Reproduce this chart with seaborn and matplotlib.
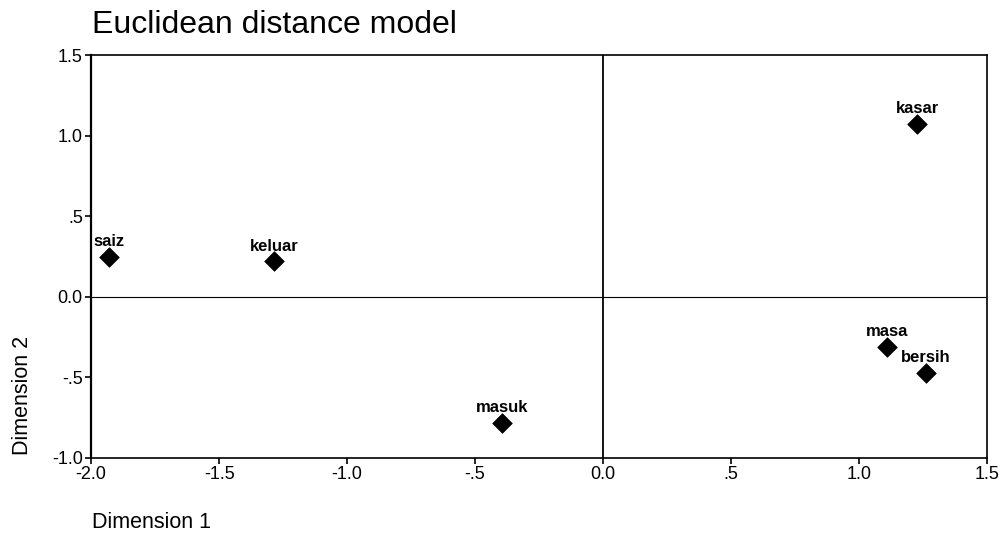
import matplotlib
matplotlib.use("Agg")
import matplotlib.pyplot as plt
import seaborn as sns
import pandas as pd

# Stimulus coordinates
words = ["saiz", "keluar", "masuk", "kasar", "masa", "bersih"]
dim1 = [-1.93, -1.285, -0.395, 1.227, 1.109, 1.262]
dim2 = [0.25, 0.22, -0.78, 1.075, -0.31, -0.47]

xticks = [-2.0, -1.5, -1.0, -0.5, 0.0, 0.5, 1.0, 1.5]
xticklabels = ["-2.0", "-1.5", "-1.0", "-.5", "0.0", ".5", "1.0", "1.5"]
yticks = [-1.0, -0.5, 0.0, 0.5, 1.0, 1.5]
yticklabels = ["-1.0", "-.5", "0.0", ".5", "1.0", "1.5"]

data = pd.DataFrame({"word": words, "Dimension 1": dim1, "Dimension 2": dim2})

sns.set_style("white")
plt.rcParams["font.family"] = ["Liberation Sans", "DejaVu Sans"]
plt.rcParams["text.color"] = "black"
plt.rcParams["xtick.color"] = "black"
plt.rcParams["ytick.color"] = "black"

fig = plt.figure(figsize=(10.02, 5.35), dpi=100)
ax = fig.add_axes([0.091, 0.144, 0.894, 0.753])

sns.scatterplot(data=data, x="Dimension 1", y="Dimension 2", marker="D",
                s=100, color="black", edgecolor="black", linewidth=0.5,
                ax=ax, zorder=3)

# labels sit just above each marker
for w, x, y in zip(words, dim1, dim2):
    ax.annotate(w, (x, y), xytext=(0, 7.5), textcoords="offset points",
                ha="center", va="baseline", fontsize=12, fontweight="bold",
                color="black")

# reference lines through the origin
ax.axhline(0, color="black", linewidth=0.8, zorder=1)
ax.axvline(0, color="black", linewidth=1.3, zorder=1)

ax.set_xlim(-2.0, 1.5)
ax.set_ylim(-1.0, 1.5)
ax.set_xticks(xticks)
ax.set_xticklabels(xticklabels, fontsize=13)
ax.set_yticks(yticks)
ax.set_yticklabels(yticklabels, fontsize=13)
ax.tick_params(axis="both", direction="out", length=4, width=1.2,
               left=True, bottom=True, pad=2)

for sp in ax.spines.values():
    sp.set_visible(True)
    sp.set_color("black")
    sp.set_linewidth(1.2)
ax.spines["left"].set_linewidth(1.6)

ax.set_xlabel("")
ax.set_ylabel("")
fig.text(0.092, 0.024, "Dimension 1", fontsize=15.5, ha="left", va="center")
fig.text(0.022, 0.15, "Dimension 2", fontsize=15.5, rotation=90,
         ha="center", va="bottom")
fig.text(0.092, 0.938, "Euclidean distance model", fontsize=23,
         ha="left", va="baseline")

plt.savefig("out.png", dpi=100)
